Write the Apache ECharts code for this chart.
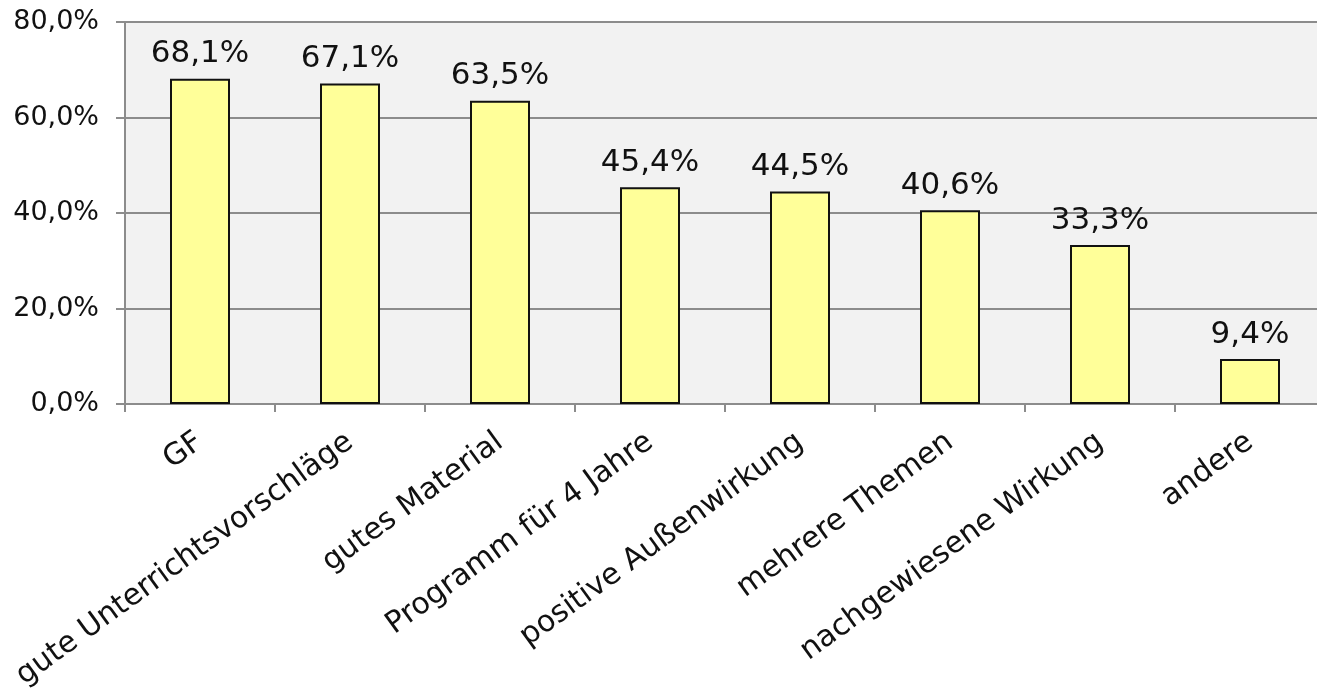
<!DOCTYPE html>
<html>
<head>
<meta charset="utf-8">
<script src="https://cdn.jsdelivr.net/npm/echarts@6/dist/echarts.min.js"></script>
<style>
  html, body {margin: 0; padding: 0; background: #fff; overflow: hidden;}
  /* plot area runs a few pixels past the right edge, as in the source image */
  #chart {width: 1325px; height: 696px;}
</style>
</head>
<body>
<div id="chart"></div>
<script>
const categories = ['GF', 'gute Unterrichtsvorschläge', 'gutes Material', 'Programm für 4 Jahre',
    'positive Außenwirkung', 'mehrere Themen', 'nachgewiesene Wirkung', 'andere'];
const values = [68.1, 67.1, 63.5, 45.4, 44.5, 40.6, 33.3, 9.4];
const yTicks = {min: 0, max: 80, interval: 20};

const fmt = v => v.toFixed(1).replace('.', ',') + '%';
const font = 'DejaVu Sans';

const myChart = echarts.init(document.getElementById('chart'));
const option = {
    animation: false,
    textStyle: {fontFamily: font},
    grid: {
        left: 125,
        top: 22,
        right: 0,
        bottom: 292,
        show: true,
        backgroundColor: '#f2f2f2',
        borderWidth: 0
    },
    xAxis: {
        type: 'category',
        data: categories,
        axisLine: {lineStyle: {color: '#8c8c8c', width: 2}},
        axisTick: {show: true, length: 8, lineStyle: {color: '#8c8c8c', width: 2}},
        axisLabel: {
            rotate: 36,
            margin: 35,
            fontSize: 30,
            color: '#111',
            fontFamily: font
        }
    },
    yAxis: {
        type: 'value',
        min: yTicks.min,
        max: yTicks.max,
        interval: yTicks.interval,
        axisLine: {show: true, lineStyle: {color: '#8c8c8c', width: 2}},
        axisTick: {show: true, length: 9, lineStyle: {color: '#8c8c8c', width: 2}},
        splitLine: {lineStyle: {color: '#8c8c8c', width: 2}},
        axisLabel: {
            formatter: v => fmt(v),
            fontSize: 27,
            color: '#111',
            margin: 26,
            fontFamily: font
        }
    },
    series: [{
        type: 'bar',
        data: values,
        barWidth: '40%',
        itemStyle: {color: '#ffff99', borderColor: '#111', borderWidth: 2},
        label: {
            show: true,
            position: 'top',
            distance: 9,
            formatter: p => fmt(p.value),
            fontSize: 31,
            color: '#111',
            fontFamily: font
        }
    }]
};
myChart.setOption(option);
</script>
</body>
</html>
